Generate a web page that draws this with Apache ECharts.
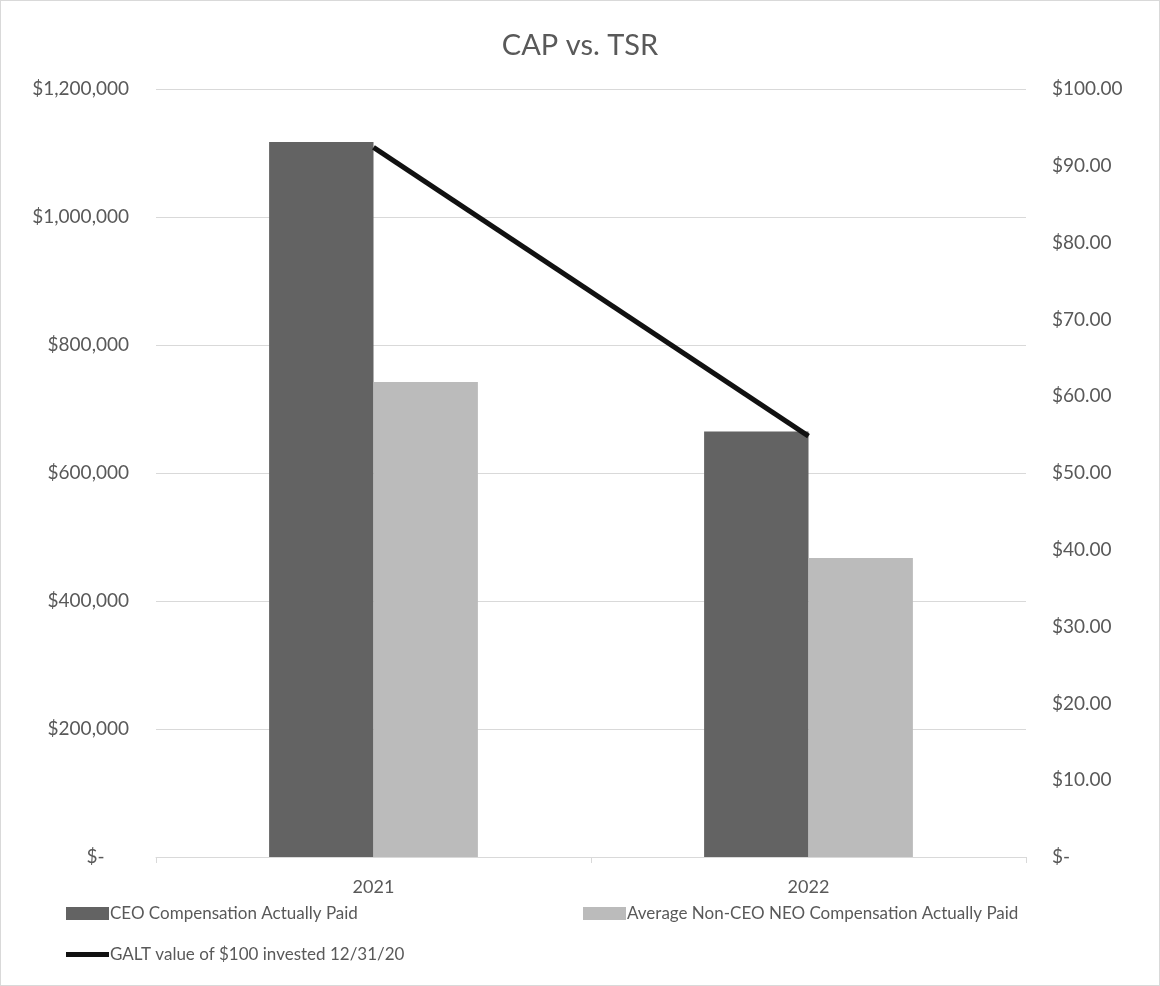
<!DOCTYPE html>
<html>
<head>
<meta charset="utf-8">
<title>CAP vs. TSR</title>
<script src="https://cdn.jsdelivr.net/npm/echarts@6/dist/echarts.min.js"></script>
<style>
  html, body { margin: 0; padding: 0; background: #fff; }
  #chart { width: 1160px; height: 986px; box-sizing: border-box; border: 1px solid #d9d9d9; }
</style>
</head>
<body>
<div id="chart"></div>
<script>
// data
var years = ['2021', '2022'];
var ceoCap = [1117000, 665000];
var neoCap = [742000, 467000];
var tsr = [92.4, 54.8];

var seriesNames = [
  'CEO Compensation Actually Paid',
  'Average Non-CEO NEO Compensation Actually Paid',
  'GALT value of $100 invested 12/31/20'
];

var txt = '#595959';
var font = 'Lato';

var chart = echarts.init(document.getElementById('chart'));

function legendAt(name, left, top, h) {
  return {
    data: [{ name: name, icon: 'rect' }],
    left: left,
    top: top,
    itemWidth: 43,
    itemHeight: h,
    itemGap: 0,
    selectedMode: false,
    textStyle: { color: txt, fontSize: 17, fontFamily: font, padding: [0, 0, 0, -4] }
  };
}

var option = {
  animation: false,
  title: {
    text: 'CAP vs. TSR',
    left: 'center',
    top: 25,
    textStyle: { color: txt, fontSize: 29, fontWeight: 'normal', fontFamily: font }
  },
  legend: [
    legendAt(seriesNames[0], 60, 899, 13),
    legendAt(seriesNames[1], 577, 899, 13),
    legendAt(seriesNames[2], 60, 940, 5)
  ],
  grid: { left: 155, right: 133, top: 88, bottom: 128 },
  xAxis: {
    type: 'category',
    data: years,
    axisLine: { lineStyle: { color: '#d9d9d9', width: 1 } },
    axisTick: { show: true, length: 6, lineStyle: { color: '#d9d9d9' } },
    axisLabel: { color: txt, fontSize: 18, fontFamily: font, margin: 21 }
  },
  yAxis: [
    {
      type: 'value',
      min: 0,
      max: 1200000,
      interval: 200000,
      axisLine: { show: false },
      axisTick: { show: false },
      splitLine: { lineStyle: { color: '#d9d9d9', width: 1 } },
      axisLabel: {
        color: txt, fontSize: 19, fontFamily: font, margin: 27,
        formatter: function (v) {
          return v === 0 ? '$-     ' : '$' + v.toLocaleString('en-US');
        }
      }
    },
    {
      type: 'value',
      min: 0,
      max: 100,
      interval: 10,
      axisLine: { show: false },
      axisTick: { show: false },
      splitLine: { show: false },
      axisLabel: {
        color: txt, fontSize: 19, fontFamily: font, margin: 26,
        formatter: function (v) {
          return v === 0 ? '$-' : '$' + v.toFixed(2);
        }
      }
    }
  ],
  series: [
    {
      name: seriesNames[0],
      type: 'bar',
      data: ceoCap,
      barGap: '0%',
      barCategoryGap: '52%',
      itemStyle: { color: '#636363' }
    },
    {
      name: seriesNames[1],
      type: 'bar',
      data: neoCap,
      itemStyle: { color: '#bbbbbb' }
    },
    {
      name: seriesNames[2],
      type: 'line',
      yAxisIndex: 1,
      data: tsr,
      symbol: 'none',
      lineStyle: { color: '#111111', width: 5 },
      itemStyle: { color: '#111111' }
    }
  ]
};

chart.setOption(option);
</script>
</body>
</html>
